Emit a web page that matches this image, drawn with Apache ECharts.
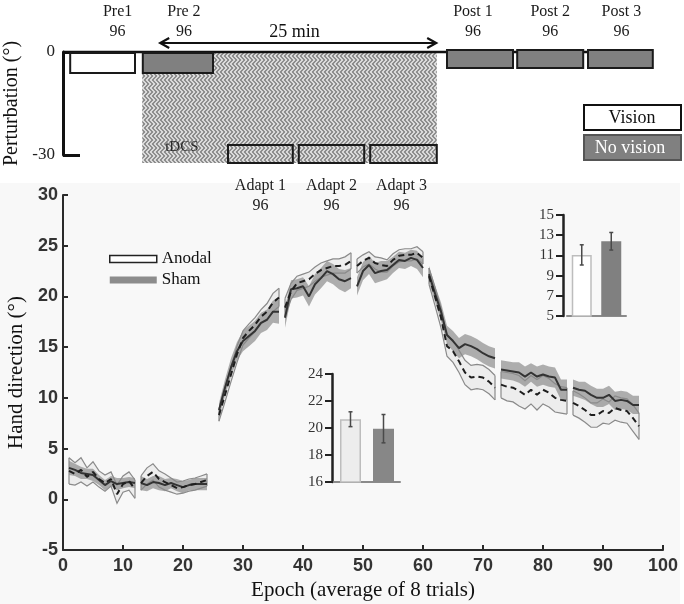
<!DOCTYPE html>
<html><head><meta charset="utf-8">
<script src="https://cdn.jsdelivr.net/npm/echarts@6/dist/echarts.min.js"></script>
<style>html,body{margin:0;padding:0;background:#fff}#c{width:684px;height:604px}</style>
</head><body><div id="c"></div>
<script>
// ---------------- DATA ----------------
// Main chart: blocks of 12 epochs (96 trials / 8)
const blockFirst = [1, 13, 26, 37, 49, 61, 73, 85];
const blockLast  = [12, 24, 36, 48, 60, 72, 84, 96];
const xTicks = [0, 100, 10];      // min, max, step
const yTicks = [-5, 30, 5];

const anodalMean = [
  2.8,2.5,2.9,2.2,2.7,2.0,1.6,2.0,0.5,1.5,1.8,1.0,
  1.6,2.3,2.7,2.0,1.7,1.4,1.1,1.2,1.4,1.5,1.7,1.9,
  null,
  8.3,10.3,12.3,14.3,15.9,16.6,17.2,18.0,18.5,19.4,19.9,
  18.9,20.5,21.3,21.5,21.7,22.2,22.6,22.8,23.0,23.0,23.1,23.5,
  23.0,23.5,23.8,23.3,23.1,23.0,23.6,24.0,24.1,24.1,24.3,23.8,
  22.0,20.0,17.9,15.1,14.6,13.6,12.5,12.0,12.1,12.0,11.6,11.0,
  11.3,11.1,11.0,10.7,10.3,10.8,10.3,10.8,10.5,10.0,9.8,9.7,
  9.5,9.2,8.8,8.3,8.3,8.7,8.5,9.0,8.8,8.7,8.0,7.2
];
const anodalSem = [
  1.3,1.1,1.2,0.9,1.0,0.8,0.8,0.7,0.9,0.8,0.9,0.9,
  0.7,0.8,0.8,0.8,0.8,0.7,0.6,0.6,0.6,0.6,0.6,0.6,
  null,
  0.6,0.7,0.7,0.8,0.7,0.7,0.7,0.7,0.8,0.9,0.9,
  0.9,0.8,0.7,0.7,0.7,0.7,0.7,0.7,0.7,0.7,0.8,0.8,
  0.7,0.6,0.6,0.6,0.7,0.6,0.6,0.6,0.6,0.6,0.6,0.6,
  0.8,0.9,1.0,1.0,1.1,1.1,1.2,1.2,1.2,1.2,1.2,1.2,
  1.3,1.4,1.4,1.5,1.4,1.4,1.5,1.4,1.4,1.4,1.3,1.3,
  1.2,1.2,1.2,1.2,1.2,1.2,1.1,1.2,1.2,1.2,1.3,1.3
];
const shamMean = [
  3.1,2.9,2.6,2.5,2.4,1.9,1.4,1.8,1.5,1.6,1.7,1.6,
  1.6,1.4,1.7,1.6,1.4,1.6,1.4,1.2,1.4,1.5,1.5,1.5,
  null,
  8.8,11.0,13.0,14.6,15.6,16.1,16.6,17.4,17.7,18.5,18.5,
  17.9,20.7,20.8,21.0,20.0,21.2,21.8,22.5,22.2,21.7,21.5,21.8,
  21.0,22.5,23.1,22.3,22.5,22.6,23.1,23.6,23.5,23.8,23.6,22.8,
  22.2,20.3,18.5,16.2,15.6,14.9,15.3,15.1,14.8,14.4,14.1,13.9,
  12.8,12.7,12.6,12.5,12.1,12.5,12.1,12.3,12.1,12.0,10.8,10.8,
  11.0,10.8,10.7,10.3,10.0,10.0,10.3,9.7,9.8,9.7,9.3,9.3
];
const shamSem = [
  0.7,0.6,0.6,0.5,0.6,0.5,0.5,0.5,0.6,0.5,0.5,0.5,
  0.7,0.6,0.6,0.7,0.6,0.5,0.6,0.6,0.5,0.6,0.6,0.6,
  null,
  0.7,0.8,0.9,0.9,1.0,1.0,1.0,1.0,1.0,1.1,1.2,
  1.0,0.9,0.9,0.9,1.0,1.0,1.0,1.0,1.0,1.0,1.1,1.0,
  0.9,0.9,0.9,1.0,1.0,0.9,0.8,0.8,0.8,0.8,0.9,0.9,
  0.8,0.8,0.9,0.9,1.0,1.0,1.0,1.0,1.0,1.0,1.0,1.0,
  0.9,0.9,0.9,1.0,1.0,0.9,1.0,1.0,1.0,1.0,1.0,1.0,
  0.8,0.8,0.9,0.9,0.9,0.9,0.9,0.9,0.9,0.9,0.9,0.9
];

// Insets
const groups = ['Anodal', 'Sham'];
const inset1Mean = [11.05, 12.4];
const inset1Err  = [1.0, 0.87];
const inset1Ticks = [5, 15, 2];
const inset2Mean = [20.65, 19.95];
const inset2Err  = [0.55, 1.05];
const inset2Ticks = [16, 24, 2];

// Perturbation schematic
const phaseNames  = ['Pre1','Pre 2','Adapt 1','Adapt 2','Adapt 3','Post 1','Post 2','Post 3'];
const phaseTrials = [96, 96, 96, 96, 96, 96, 96, 96];
const phaseFrom   = [1.2, 13.3, 27.5, 39.3, 51.2, 64.0, 75.7, 87.5];
const phaseTo     = [12.0, 25.0, 38.3, 50.2, 62.3, 75.0, 86.7, 98.3];
const phasePert   = [0, 0, -30, -30, -30, 0, 0, 0];
const phaseVision = [true, false, true, true, true, false, false, false];
const pertTicks   = [-30, 0, 30];
const tdcsSpan    = [13.2, 62.3];
const tdcsArrow   = [16.2, 62.2];
const baselineEnd = 98.3;

// ---------------- STYLE ----------------
const SERIF = '"Liberation Serif", "Times New Roman", serif';
const SANS = '"Liberation Sans", Arial, sans-serif';
const labelNudgePx = [15, 6, 0, 0, -2, -7, 0, 1];

// zigzag texture for tDCS period
const hc = document.createElement('canvas'); hc.width = 8; hc.height = 8;
const g = hc.getContext('2d');
const rows = ['DDLLDDLL','LDDLLDDL','LLDDLLDD','DLLDDLLD','DLLDDLLD','LLDDLLDD','LDDLLDDL','DDLLDDLL'];
rows.forEach((r, y) => { for (let x = 0; x < 8; x++) { g.fillStyle = r[x] === 'D' ? '#8e8e8e' : '#dadada'; g.fillRect(x, y, 1, 1); } });
const hatch = { image: hc, repeat: 'repeat' };

// ---------------- BUILD ----------------
function lineData(mean) {
  const out = [];
  blockFirst.forEach((f, i) => {
    for (let e = f; e <= blockLast[i]; e++) out.push([e, mean[e - 1]]);
    out.push([blockLast[i] + 0.5, '-']);
  });
  return out;
}
const blockData = blockFirst.map((f, i) => [f, blockLast[i]]);

function bandRenderer(mean, sem, fill) {
  return function (params, api) {
    const f = api.value(0), l = api.value(1);
    const up = [], dn = [];
    for (let e = f; e <= l; e++) {
      up.push(api.coord([e, mean[e - 1] + sem[e - 1]]));
      dn.push(api.coord([e, mean[e - 1] - sem[e - 1]]));
    }
    return { type: 'polygon', shape: { points: up.concat(dn.reverse()) }, style: { fill: fill } };
  };
}
function edgeRenderer(mean, sem, stroke) {
  return function (params, api) {
    const f = api.value(0), l = api.value(1);
    const up = [], dn = [];
    for (let e = f; e <= l; e++) {
      up.push(api.coord([e, mean[e - 1] + sem[e - 1]]));
      dn.push(api.coord([e, mean[e - 1] - sem[e - 1]]));
    }
    const st = { fill: 'none', stroke: stroke, lineWidth: 1.2 };
    return { type: 'group', children: [
      { type: 'polyline', shape: { points: up }, style: st },
      { type: 'polyline', shape: { points: dn }, style: st },
      { type: 'line', shape: { x1: up[up.length-1][0], y1: up[up.length-1][1], x2: dn[dn.length-1][0], y2: dn[dn.length-1][1] }, style: st },
      { type: 'line', shape: { x1: up[0][0], y1: up[0][1], x2: dn[0][0], y2: dn[0][1] }, style: st }
    ]};
  };
}
function errRenderer(params, api) {
  const m = api.value(1), e = api.value(2);
  const top = api.coord([api.value(0), m + e]);
  const bot = api.coord([api.value(0), m - e]);
  const st = { stroke: '#4a4a4a', lineWidth: 1.5 };
  return { type: 'group', children: [
    { type: 'line', shape: { x1: top[0], y1: top[1], x2: bot[0], y2: bot[1] }, style: st },
    { type: 'line', shape: { x1: top[0]-2, y1: top[1], x2: top[0]+2, y2: top[1] }, style: st },
    { type: 'line', shape: { x1: bot[0]-2, y1: bot[1], x2: bot[0]+2, y2: bot[1] }, style: st }
  ]};
}
function renderPhase(params, api) {
  const i = api.value(3);
  const lvl = api.value(2);
  const p0 = api.coord([api.value(0), lvl]);
  const p1 = api.coord([api.value(1), lvl]);
  const adapt = lvl < 0, pre = i < 2;
  let top, h;
  if (adapt) { top = p0[1] - 10; h = 18; }
  else if (pre) { top = p0[1] + 1; h = 20; }
  else { top = p0[1] - 2; h = 18; }
  const fill = adapt ? hatch : (phaseVision[i] ? '#ffffff' : '#808080');
  const lx = (p0[0] + p1[0]) / 2 + labelNudgePx[i];
  const ly = adapt ? p0[1] + 41 : p0[1] - 30;
  return { type: 'group', children: [
    { type: 'rect', shape: { x: p0[0], y: top, width: p1[0] - p0[0], height: h }, style: { fill: fill, stroke: '#1a1a1a', lineWidth: 2 } },
    { type: 'text', style: { text: phaseNames[i] + '\n' + phaseTrials[i], x: lx, y: ly, align: 'center', verticalAlign: 'middle', font: '16px ' + SERIF, lineHeight: 20, fill: '#1a1a1a' } }
  ]};
}
function renderDecor(params, api) {
  const z0 = api.coord([tdcsSpan[0], 0]);
  const z1 = api.coord([tdcsSpan[1], pertTicks[0]]);
  const b0 = api.coord([0, 0]);
  const b1 = api.coord([baselineEnd, 0]);
  const a0 = api.coord([tdcsArrow[0], 0]);
  const a1 = api.coord([tdcsArrow[1], 0]);
  const ay = a0[1] - 9;
  const ast = { fill: 'none', stroke: '#111', lineWidth: 2.2 };
  const tl = api.coord([(tdcsArrow[0] + tdcsArrow[1]) / 2 - 0.6, 0]);
  const tx = api.coord([tdcsSpan[0] + 6.6, pertTicks[0]]);
  return { type: 'group', children: [
    { type: 'rect', shape: { x: z0[0], y: z0[1], width: z1[0] - z0[0], height: z1[1] - z0[1] + 8 }, style: { fill: hatch } },
    { type: 'line', shape: { x1: b0[0], y1: b0[1], x2: b1[0], y2: b1[1] }, style: { stroke: '#111', lineWidth: 2.5 } },
    { type: 'line', shape: { x1: a0[0], y1: ay, x2: a1[0], y2: ay }, style: ast },
    { type: 'polyline', shape: { points: [[a0[0] + 9, ay - 5], [a0[0], ay], [a0[0] + 9, ay + 5]] }, style: ast },
    { type: 'polyline', shape: { points: [[a1[0] - 9, ay - 5], [a1[0], ay], [a1[0] - 9, ay + 5]] }, style: ast },
    { type: 'text', style: { text: '25 min', x: tl[0], y: b0[1] - 20, align: 'center', verticalAlign: 'middle', font: '18px ' + SERIF, fill: '#111' } },
    { type: 'text', style: { text: 'tDCS', x: tx[0], y: tx[1] - 8, align: 'center', verticalAlign: 'middle', font: '15px ' + SERIF, fill: '#2a2a2a' } }
  ]};
}

const chart = echarts.init(document.getElementById('c'), null, { renderer: 'canvas' });
const axisDark = { color: '#2a2a2a', width: 2 };
chart.setOption({
  animation: false,
  backgroundColor: '#ffffff',
  graphic: [
    { type: 'rect', z: -100, shape: { x: 0, y: 183, width: 680, height: 421 }, style: { fill: '#f8f8f8' } },
    { type: 'rect', z: 100, shape: { x: 584, y: 105, width: 97, height: 25 }, style: { fill: '#fff', stroke: '#111', lineWidth: 2 } },
    { type: 'text', z: 101, style: { text: 'Vision', x: 632, y: 118, align: 'center', verticalAlign: 'middle', font: '18px ' + SERIF, fill: '#111' } },
    { type: 'rect', z: 100, shape: { x: 584, y: 135, width: 97, height: 25 }, style: { fill: '#808080', stroke: '#555', lineWidth: 2 } },
    { type: 'text', z: 101, style: { text: 'No vision', x: 630, y: 148, align: 'center', verticalAlign: 'middle', font: '18px ' + SERIF, fill: '#fff' } }
  ],
  legend: {
    orient: 'vertical', left: 104, top: 245, itemWidth: 47, itemHeight: 7, itemGap: 3,
    selectedMode: false,
    data: [
      { name: 'Anodal', icon: 'rect', itemStyle: { color: '#ffffff', borderColor: '#222', borderWidth: 1.5 } },
      { name: 'Sham', icon: 'rect', itemStyle: { color: '#8c8c8c', borderWidth: 0 } }
    ],
    textStyle: { fontFamily: SERIF, fontSize: 17, color: '#111', lineHeight: 18 }
  },
  grid: [
    { left: 63, right: 21, top: 195, bottom: 54, outerBoundsMode: 'none' },
    { left: 63, right: 21, top: 52, height: 103, outerBoundsMode: 'none' },
    { left: 567, top: 215, width: 59, height: 101, outerBoundsMode: 'none' },
    { left: 334, top: 374, width: 66, height: 108, outerBoundsMode: 'none' }
  ],
  xAxis: [
    { gridIndex: 0, type: 'value', min: xTicks[0], max: xTicks[1], interval: xTicks[2],
      axisLine: { onZero: false, lineStyle: axisDark },
      axisTick: { inside: true, length: 5, lineStyle: axisDark },
      axisLabel: { fontFamily: SANS, fontWeight: 'bold', fontSize: 18, color: '#333', margin: 7 },
      splitLine: { show: false },
      name: 'Epoch (average of 8 trials)', nameLocation: 'middle', nameGap: 29,
      nameTextStyle: { fontFamily: SERIF, fontSize: 21, color: '#111' } },
    { gridIndex: 1, type: 'value', min: 0, max: 100, show: false },
    { gridIndex: 2, type: 'category', data: groups,
      axisLine: { onZero: false, lineStyle: { color: '#8a8a8a', width: 2 } },
      axisTick: { show: false }, axisLabel: { show: false } },
    { gridIndex: 3, type: 'category', data: groups,
      axisLine: { onZero: false, lineStyle: { color: '#8a8a8a', width: 2 } },
      axisTick: { show: false }, axisLabel: { show: false } }
  ],
  yAxis: [
    { gridIndex: 0, type: 'value', min: yTicks[0], max: yTicks[1], interval: yTicks[2],
      axisLine: { show: true, onZero: false, lineStyle: axisDark },
      axisTick: { show: true, inside: true, length: 5, lineStyle: axisDark },
      axisLabel: { fontFamily: SANS, fontWeight: 'bold', fontSize: 18, color: '#333', margin: 5 },
      splitLine: { show: false },
      name: 'Hand direction (°)', nameLocation: 'middle', nameGap: 36,
      nameTextStyle: { fontFamily: SERIF, fontSize: 21, color: '#111' } },
    { gridIndex: 1, type: 'value', min: pertTicks[0], max: pertTicks[1], interval: pertTicks[2],
      axisLine: { show: true, onZero: false, lineStyle: { color: '#111', width: 3 } },
      axisTick: { show: true, inside: true, length: 17, lineStyle: { color: '#111', width: 3 } },
      axisLabel: { fontFamily: SERIF, fontSize: 17, color: '#222', margin: 8 },
      splitLine: { show: false },
      name: 'Perturbation (°)', nameLocation: 'middle', nameGap: 38,
      nameTextStyle: { fontFamily: SERIF, fontSize: 20, color: '#111' } },
    { gridIndex: 2, type: 'value', min: inset1Ticks[0], max: inset1Ticks[1], interval: inset1Ticks[2], offset: 4,
      axisLine: { show: true, onZero: false, lineStyle: { color: '#222', width: 2.5 } },
      axisTick: { show: true, length: 7, lineStyle: { color: '#222', width: 2 } },
      axisLabel: { fontFamily: SERIF, fontSize: 15, color: '#333', margin: 9 },
      splitLine: { show: false } },
    { gridIndex: 3, type: 'value', min: inset2Ticks[0], max: inset2Ticks[1], interval: inset2Ticks[2], offset: 2,
      axisLine: { show: true, onZero: false, lineStyle: { color: '#222', width: 2.5 } },
      axisTick: { show: true, length: 7, lineStyle: { color: '#222', width: 2 } },
      axisLabel: { fontFamily: SERIF, fontSize: 15, color: '#333', margin: 9 },
      splitLine: { show: false } }
  ],
  series: [
    { type: 'custom', name: 'decor', xAxisIndex: 1, yAxisIndex: 1, z: 1, silent: true,
      data: [[0, 0]], renderItem: renderDecor },
    { type: 'custom', name: 'phases', xAxisIndex: 1, yAxisIndex: 1, z: 2, silent: true,
      encode: { x: [0, 1], y: 2 },
      data: phaseFrom.map((f, i) => [f, phaseTo[i], phasePert[i], i]), renderItem: renderPhase },
    { type: 'custom', name: 'Anodal', xAxisIndex: 0, yAxisIndex: 0, z: 2, encode: { x: [0, 1] },
      data: blockData, renderItem: bandRenderer(anodalMean, anodalSem, '#ededed') },
    { type: 'custom', name: 'Sham', xAxisIndex: 0, yAxisIndex: 0, z: 3, encode: { x: [0, 1] },
      data: blockData, renderItem: bandRenderer(shamMean, shamSem, 'rgba(128,128,128,0.62)') },
    { type: 'custom', name: 'anodalEdge', xAxisIndex: 0, yAxisIndex: 0, z: 4, encode: { x: [0, 1] },
      data: blockData, renderItem: edgeRenderer(anodalMean, anodalSem, '#8a8a8a') },
    { type: 'line', name: 'shamMean', xAxisIndex: 0, yAxisIndex: 0, z: 5, symbol: 'none',
      data: lineData(shamMean), lineStyle: { color: '#333', width: 2 } },
    { type: 'line', name: 'anodalMean', xAxisIndex: 0, yAxisIndex: 0, z: 6, symbol: 'none',
      data: lineData(anodalMean), lineStyle: { color: '#1e1e1e', width: 2, type: [6, 4] } },
    { type: 'bar', name: 'inset1', xAxisIndex: 2, yAxisIndex: 2, barWidth: 20,
      data: [
        { value: inset1Mean[0], itemStyle: { color: '#ffffff', borderColor: '#bdbdbd', borderWidth: 1.5 } },
        { value: inset1Mean[1], itemStyle: { color: '#808080' } }
      ] },
    { type: 'custom', name: 'inset1Err', xAxisIndex: 2, yAxisIndex: 2, z: 5, encode: { x: 0, y: 1 },
      data: groups.map((gname, i) => [i, inset1Mean[i], inset1Err[i]]), renderItem: errRenderer },
    { type: 'bar', name: 'inset2', xAxisIndex: 3, yAxisIndex: 3, barWidth: 21,
      data: [
        { value: inset2Mean[0], itemStyle: { color: '#ededed', borderColor: '#bdbdbd', borderWidth: 1.5 } },
        { value: inset2Mean[1], itemStyle: { color: '#878787' } }
      ] },
    { type: 'custom', name: 'inset2Err', xAxisIndex: 3, yAxisIndex: 3, z: 5, encode: { x: 0, y: 1 },
      data: groups.map((gname, i) => [i, inset2Mean[i], inset2Err[i]]), renderItem: errRenderer }
  ]
});
</script>
</body></html>
